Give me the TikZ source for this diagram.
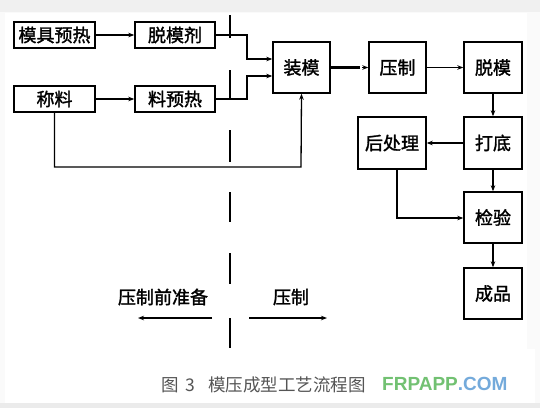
\documentclass[tikz,border=0pt]{standalone}
\usepackage{fontspec}
\newfontfamily\cjk{Noto Sans CJK SC}
\newfontfamily\cjkb[FakeBold=1.6]{Noto Sans CJK SC}
\newfontfamily\wmfont{Liberation Sans}
\usetikzlibrary{arrows.meta}
\definecolor{capgray}{HTML}{555555}
\definecolor{wmgreen}{HTML}{72C172}
\definecolor{wmblue}{HTML}{74AADB}
\tikzset{
  box/.style={draw, line width=1.4pt, minimum width=#1, inner sep=0pt, font=\cjkb\fontsize{18}{18}\selectfont},
  flow/.style={line width=1.3pt, -{Stealth[length=6pt,width=4.5pt]}},
  divider/.style={line width=1.3pt},
  lbl/.style={font=\cjkb\fontsize{18}{18}\selectfont, inner sep=0pt}
}
\begin{document}
\begin{tikzpicture}[x=1pt,y=-1pt]
\useasboundingbox (0,0) rectangle (540,408);
\fill[white!98!black] (0,0) rectangle (540,408);
\fill[white!94!black] (0,0) rectangle (540,12);
\fill[white!92!black] (0,403) rectangle (540,408);
\fill[white] (5,13) rectangle (527,349);
\fill[white] (5,349) rectangle (535,403);

% boxes
\node[box=81pt, minimum height=26pt] (mjyr) at (54.5,35) {模具预热};
\node[box=80pt, minimum height=26pt] (tmj) at (175,35) {脱模剂};
\node[box=81pt, minimum height=26pt] (cl) at (54.5,99) {称料};
\node[box=80pt, minimum height=26pt] (lyr) at (175,99) {料预热};
\node[box=57pt, minimum height=51pt] (zm) at (301.5,67.5) {装模};
\node[box=57pt, minimum height=51pt] (yz) at (397.5,67.5) {压制};
\node[box=58pt, minimum height=51pt] (tm) at (493,67.5) {脱模};
\node[box=68pt, minimum height=52pt] (hcl) at (392,143) {后处理};
\node[box=58pt, minimum height=52pt] (dd) at (493,143) {打底};
\node[box=58pt, minimum height=51pt] (jy) at (493,217.5) {检验};
\node[box=58pt, minimum height=51pt] (cp) at (493,293.5) {成品};

% connectors
\draw[flow] (mjyr) -- (tmj);
\draw[flow] (cl) -- (lyr);
\draw[flow] (tmj.east) -- (247,35) |- (zm.west |- 0,59);
\draw[flow] (lyr.east) -- (247,99) |- (zm.west |- 0,76);
\draw[flow] (cl.south) |- (301,167) -- (zm.south);
\draw[line width=2.6pt] (zm.east) -- (360,67.5);
\draw[flow] (362,67.5) -- (yz.west);
\draw[flow] (yz) -- (tm);
\draw[flow] (tm) -- (dd);
\draw[flow] (dd) -- (hcl);
\draw[flow] (dd) -- (jy);
\draw[flow] (jy) -- (cp);
\draw[flow] (hcl.south -| 397,0) |- (jy.west |- 0,218);

% divider
\foreach \a/\b in {15/38, 70/100, 130/162, 192/222, 253/284, 318/348}
  \draw[divider] (230,\a) -- (230,\b);

% phase labels
\node[lbl] (pre) at (163,297) {压制前准备};
\node[lbl] (pr) at (291,297) {压制};
\coordinate (la) at (212,318);
\coordinate (lb) at (138,318);
\coordinate (ra) at (249,318);
\coordinate (rb) at (327,318);
\draw[flow] (la) -- (lb);
\draw[flow] (ra) -- (rb);

% caption
\node[anchor=west, inner sep=0pt, text=capgray, font=\cjk\fontsize{17.5}{17.5}\selectfont] (cap) at (161,385) {图\hspace{7pt}3\hspace{13pt}模压成型工艺流程图};
\node[anchor=west, inner sep=0pt, font=\wmfont\bfseries\fontsize{19}{19}\selectfont] (wm) at (382,384) {\textcolor{wmgreen}{FRPAPP}\textcolor{wmblue}{.COM}};
\end{tikzpicture}
\end{document}
